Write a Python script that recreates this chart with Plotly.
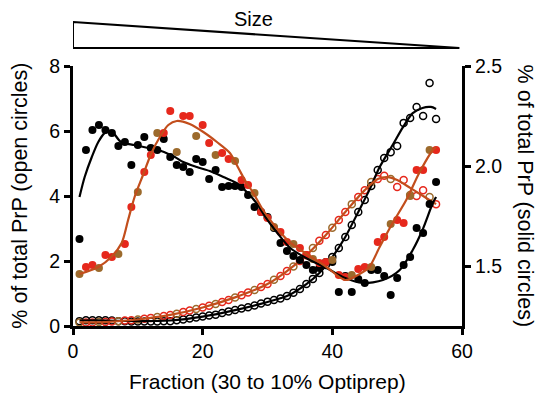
import plotly.graph_objects as go

fractions = list(range(1, 57))

# Left axis (open circles), % of total PrP
black_open = [0.15, 0.18, 0.18, 0.18, 0.18, 0.17, 0.15, 0.15, 0.14, 0.14,
              0.14, 0.14, 0.14, 0.15, 0.15, 0.18, 0.20, 0.23, 0.26, 0.29,
              0.32, 0.35, 0.40, 0.45, 0.49, 0.54, 0.58, 0.63, 0.69, 0.75,
              0.80, 0.85, 0.92, 1.02, 1.14, 1.29, 1.45, 1.63, 1.88, 2.12,
              2.40, 2.74, 3.11, 3.51, 3.88, 4.31, 4.80, 5.17, 5.35, 5.54,
              6.25, 6.40, 6.74, 6.46, 7.48, 6.37]
red_open = [0.11, 0.11, 0.11, 0.12, 0.12, 0.14, 0.15, 0.17, 0.18, 0.20,
            0.22, 0.25, 0.28, 0.31, 0.34, 0.38, 0.43, 0.48, 0.52, 0.57,
            0.62, 0.68, 0.74, 0.80, 0.88, 0.95, 1.03, 1.11, 1.20, 1.29,
            1.42, 1.54, 1.69, 1.83, 2.00, 2.18, 2.40, 2.62, 2.80, 3.02,
            3.26, 3.51, 3.75, 3.97, 4.18, 4.43, 4.52, 4.62, 4.52, 4.28,
            4.49, 4.03, 4.00, 4.18, 3.97, 3.75]

# Right axis (solid circles)
black_solid = [1.635, 2.08, 2.18, 2.205, 2.18, 2.165, 2.10, 2.12, 2.005, 2.105,
               2.145, 2.09, 2.08, 2.135, 2.045, 2.005, 1.995, 1.97, 2.035, 2.02,
               1.935, 1.98, 1.895, 1.90, 1.90, 1.895, 1.855, 1.795, 1.77, 1.745,
               1.69, 1.615, 1.575, 1.55, 1.53, 1.505, 1.48, 1.49, 1.52, 1.52,
               1.37, 1.45, 1.37, 1.435, 1.415, 1.48, 1.48, 1.45, 1.355, 1.44,
               1.505, 1.545, 1.69, 1.665, 1.81, 1.92]
red_solid = [1.46, 1.495, 1.505, 1.49, 1.555, 1.545, 1.56, 1.61, 1.795, 1.87,
             1.97, 2.055, 2.165, 2.165, 2.275, 2.07, 2.25, 2.25, 2.15, 2.205,
             2.115, 2.055, 2.065, 2.035, 2.025, 1.93, 1.905, 1.865, 1.77, 1.74,
             1.695, 1.67, 1.62, 1.61, 1.59, 1.555, 1.535, 1.515, 1.52, 1.53,
             1.455, 1.445, 1.455, 1.485, 1.495, 1.495, 1.62, 1.645, 1.71, 1.73,
             1.715, 1.85, 1.98, 1.98, 2.08, 2.08]

# Fitted curves
black_open_fit_x = [1, 5, 10, 15, 20, 25, 30, 33, 36, 38, 40, 42, 44, 45.7, 47.3, 49.3, 50.9, 52.4, 53.9, 55.2, 56]
black_open_fit_y = [0.17, 0.17, 0.15, 0.17, 0.29, 0.49, 0.74, 0.92, 1.29, 1.63, 2.12, 2.74, 3.51, 4.18, 4.89, 5.57, 6.12, 6.55, 6.71, 6.74, 6.68]
red_open_fit_x = [1, 5, 10, 15, 20, 25, 30, 33, 36, 39, 42, 45, 47, 48.5, 50, 52, 54, 56]
red_open_fit_y = [0.11, 0.12, 0.20, 0.34, 0.57, 0.88, 1.29, 1.69, 2.18, 2.80, 3.51, 4.18, 4.52, 4.58, 4.49, 4.25, 4.00, 3.75]
black_solid_fit_x = [1, 1.8, 2.9, 3.9, 4.9, 5.9, 7.4, 9.5, 11.6, 13.6, 15.7, 17, 19.1, 21.1, 23.2, 25.2, 26.8, 28.3,
                     29.8, 31.4, 33.5, 36.5, 39.1, 41.6, 44.7, 47.8, 50.4, 52.4, 53.9, 55.5, 56]
black_solid_fit_y = [1.845, 1.945, 2.045, 2.12, 2.165, 2.175, 2.12, 2.105, 2.09, 2.075, 2.045, 2.02, 1.995, 1.975,
                     1.945, 1.915, 1.87, 1.815, 1.74, 1.67, 1.59, 1.53, 1.49, 1.445, 1.415, 1.43, 1.48, 1.58, 1.68,
                     1.815, 1.845]
red_solid_fit_x = [1, 3.9, 5.9, 7.5, 8.5, 9.5, 10.8, 12.1, 13.4, 14.7, 16, 18, 20.1, 22.2, 24.2, 25.5, 26.5, 27.8,
                   29.3, 31.4, 33.4, 36.5, 39.1, 42, 44.2, 45.7, 47.3, 49.3, 51.4, 53.4, 55.5, 56]
red_solid_fit_y = [1.46, 1.495, 1.545, 1.615, 1.73, 1.845, 1.955, 2.065, 2.145, 2.205, 2.225, 2.21, 2.17, 2.12,
                   2.065, 1.99, 1.93, 1.865, 1.78, 1.69, 1.62, 1.55, 1.495, 1.43, 1.46, 1.495, 1.595, 1.715, 1.83,
                   1.965, 2.08, 2.095]

x_ticks = [0, 20, 40, 60]
left_ticks = [0, 2, 4, 6, 8]
right_ticks = [1.5, 2.0, 2.5]

RED = "#e6281c"
BROWN = "#9c6a2c"
RED_LINE = "#c24e1c"
FONT = "Liberation Sans, Arial, sans-serif"

alt_solid = [BROWN if i % 3 == 0 else RED for i in range(len(fractions))]
alt_open = [RED if i % 3 else BROWN for i in range(len(fractions))]

fig = go.Figure()

# open circles (left axis)
fig.add_trace(go.Scatter(x=fractions, y=black_open, mode="markers",
                         marker=dict(symbol="circle-open", size=7, color="black", line=dict(width=1.5))))
fig.add_trace(go.Scatter(x=fractions, y=red_open, mode="markers",
                         marker=dict(symbol="circle-open", size=7, color=alt_open, line=dict(width=1.5))))
fig.add_trace(go.Scatter(x=black_open_fit_x, y=black_open_fit_y, mode="lines",
                         line=dict(color="black", width=2.2, shape="spline", smoothing=0.8)))
fig.add_trace(go.Scatter(x=red_open_fit_x, y=red_open_fit_y, mode="lines",
                         line=dict(color=RED_LINE, width=2.2, shape="spline", smoothing=0.8)))

# solid circles (right axis)
fig.add_trace(go.Scatter(x=fractions, y=black_solid, mode="markers", yaxis="y2",
                         marker=dict(symbol="circle", size=8, color="black")))
fig.add_trace(go.Scatter(x=fractions, y=red_solid, mode="markers", yaxis="y2",
                         marker=dict(symbol="circle", size=8, color=alt_solid)))
fig.add_trace(go.Scatter(x=black_solid_fit_x, y=black_solid_fit_y, mode="lines", yaxis="y2",
                         line=dict(color="black", width=2.2, shape="spline", smoothing=0.8)))
fig.add_trace(go.Scatter(x=red_solid_fit_x, y=red_solid_fit_y, mode="lines", yaxis="y2",
                         line=dict(color=RED_LINE, width=2.2, shape="spline", smoothing=0.8)))

axis_common = dict(showgrid=False, zeroline=False, showline=True, linecolor="black", linewidth=3,
                   ticks="outside", ticklen=6, tickwidth=3, tickcolor="black",
                   tickfont=dict(family=FONT, size=19.5, color="black"))

# The page adds an 8px body margin, so the figure is sized to fit the 550x397 window.
fig.update_layout(
    width=542, height=389,
    margin=dict(l=65, r=88, t=58, b=71),
    paper_bgcolor="white", plot_bgcolor="white",
    showlegend=False,
    font=dict(family=FONT, color="black"),
    xaxis=dict(range=[0, 60], tickvals=x_ticks, **axis_common),
    yaxis=dict(range=[0, 8], tickvals=left_ticks, **axis_common),
    yaxis2=dict(range=[1.2, 2.5], tickvals=right_ticks, tickformat=".1f", overlaying="y", side="right",
                **axis_common),
    shapes=[dict(type="path", xref="x", yref="paper",
                 path="M 0 1.169 L 59.6 1.069 L 0 1.069 Z",
                 line=dict(color="black", width=2), fillcolor="white")],
    annotations=[
        dict(text="Size", xref="x", yref="paper", x=27.8, y=1.18, showarrow=False,
             font=dict(family=FONT, size=20), xanchor="center", yanchor="middle"),
        dict(text="Fraction (30 to 10% Optiprep)", xref="paper", yref="paper", x=0.5, y=-0.215,
             showarrow=False, font=dict(family=FONT, size=21), xanchor="center", yanchor="middle"),
        dict(text="% of total PrP (open circles)", xref="paper", yref="paper", x=-0.137, y=0.5,
             textangle=-90, showarrow=False, font=dict(family=FONT, size=21.5),
             xanchor="center", yanchor="middle"),
        dict(text="% of total PrP (solid circles)", xref="paper", yref="paper", x=1.163, y=0.5,
             textangle=90, showarrow=False, font=dict(family=FONT, size=21.5),
             xanchor="center", yanchor="middle"),
    ],
)

fig.write_html("out.html")
